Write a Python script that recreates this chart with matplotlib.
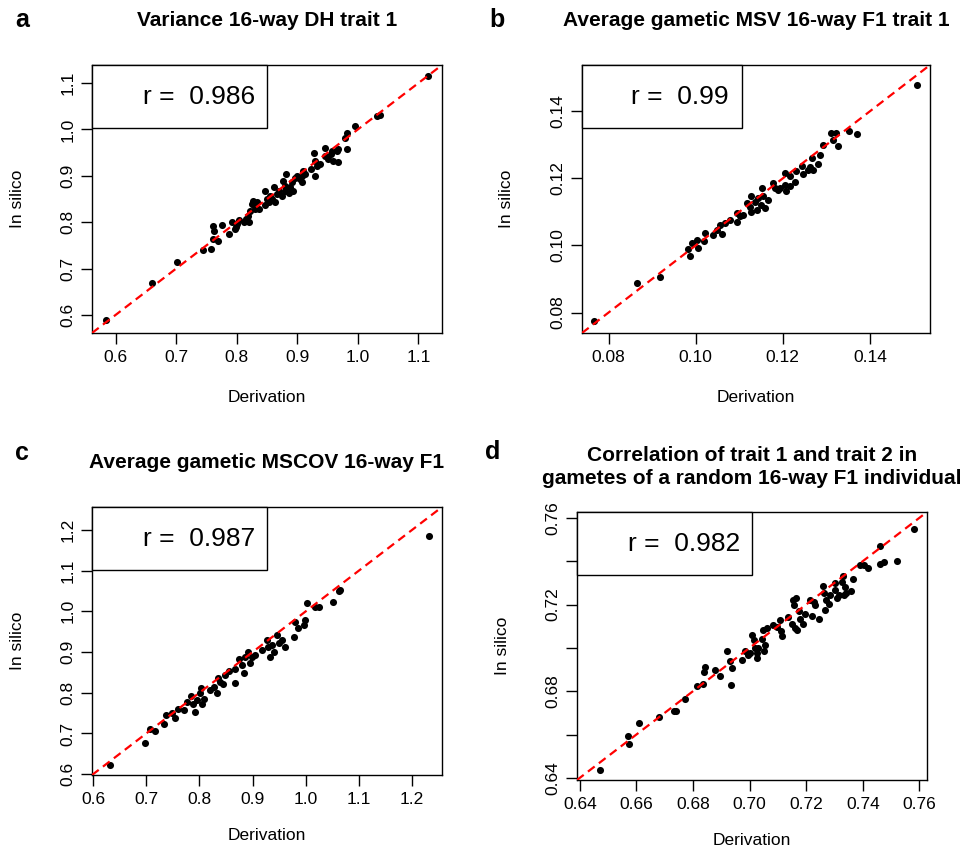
import matplotlib
matplotlib.use("Agg")
import matplotlib.pyplot as plt
from matplotlib.patches import Rectangle

plt.rcParams['font.family'] = ['Liberation Sans', 'DejaVu Sans']

# panel a: variance 16-way DH trait 1
a_x = [0.584, 0.660, 0.702, 0.744, 0.758, 0.761, 0.762, 0.760, 0.769, 0.776, 0.788, 0.792,
       0.798, 0.800, 0.804, 0.797, 0.812, 0.820, 0.819, 0.822, 0.827, 0.828, 0.833, 0.836,
       0.847, 0.850, 0.853, 0.855, 0.861, 0.864, 0.866, 0.875, 0.877, 0.880, 0.882, 0.886,
       0.888, 0.893, 0.891, 0.899, 0.904, 0.908, 0.910, 0.913, 0.927, 0.930, 0.930, 0.938,
       0.946, 0.946, 0.951, 0.957, 0.959, 0.968, 0.968, 0.982, 0.979, 0.982, 0.996, 1.031,
       1.036, 1.116, 0.825, 0.830, 0.815, 0.858, 0.847, 0.870, 0.880, 0.897, 0.908, 0.922,
       0.933, 0.955, 0.965]
a_y = [0.589, 0.669, 0.714, 0.739, 0.743, 0.764, 0.782, 0.791, 0.759, 0.795, 0.775, 0.800,
       0.789, 0.796, 0.804, 0.786, 0.800, 0.801, 0.814, 0.825, 0.846, 0.836, 0.843, 0.829,
       0.868, 0.850, 0.843, 0.857, 0.875, 0.843, 0.861, 0.857, 0.889, 0.879, 0.904, 0.864,
       0.875, 0.868, 0.886, 0.900, 0.893, 0.886, 0.911, 0.904, 0.950, 0.932, 0.900, 0.925,
       0.961, 0.943, 0.936, 0.954, 0.932, 0.929, 0.957, 0.957, 0.982, 0.993, 1.007, 1.029,
       1.032, 1.116, 0.839, 0.829, 0.807, 0.850, 0.836, 0.868, 0.868, 0.896, 0.900, 0.914,
       0.921, 0.946, 0.954]

# panel b: average gametic MSV 16-way F1 trait 1
b_x = [0.0767, 0.0865, 0.0917, 0.0983, 0.0987, 0.0991, 0.1002, 0.1006, 0.1018, 0.1022,
       0.1040, 0.1048, 0.1056, 0.1060, 0.1067, 0.1079, 0.1094, 0.1094, 0.1102, 0.1109,
       0.1117, 0.1124, 0.1128, 0.1128, 0.1136, 0.1140, 0.1143, 0.1151, 0.1153, 0.1155,
       0.1159, 0.1166, 0.1178, 0.1182, 0.1189, 0.1193, 0.1205, 0.1205, 0.1208, 0.1216,
       0.1216, 0.1227, 0.1231, 0.1243, 0.1247, 0.1258, 0.1262, 0.1269, 0.1268, 0.1281,
       0.1285, 0.1292, 0.1311, 0.1315, 0.1323, 0.1327, 0.1353, 0.1370, 0.1508]
b_y = [0.0776, 0.0888, 0.0905, 0.0989, 0.0969, 0.1007, 0.1017, 0.0992, 0.1012, 0.1037,
       0.1032, 0.1047, 0.1062, 0.1035, 0.1067, 0.1077, 0.1097, 0.1069, 0.1087, 0.1092,
       0.1126, 0.1116, 0.1146, 0.1101, 0.1131, 0.1106, 0.1141, 0.1121, 0.1171, 0.1146,
       0.1111, 0.1136, 0.1186, 0.1171, 0.1166, 0.1171, 0.1216, 0.1181, 0.1161, 0.1206,
       0.1176, 0.1188, 0.1221, 0.1236, 0.1214, 0.1226, 0.1234, 0.1226, 0.1261, 0.1244,
       0.1271, 0.1300, 0.1335, 0.1315, 0.1335, 0.1298, 0.1340, 0.1333, 0.1477]

# panel c: average gametic MSCOV 16-way F1
c_x = [0.631, 0.697, 0.707, 0.716, 0.734, 0.737, 0.749, 0.754, 0.760, 0.771, 0.776, 0.784,
       0.788, 0.792, 0.795, 0.801, 0.803, 0.804, 0.809, 0.820, 0.827, 0.833, 0.834, 0.839,
       0.845, 0.848, 0.856, 0.867, 0.867, 0.874, 0.880, 0.883, 0.886, 0.891, 0.895, 0.898,
       0.905, 0.917, 0.927, 0.929, 0.933, 0.936, 0.941, 0.945, 0.949, 0.955, 0.960, 0.977,
       0.980, 0.986, 0.996, 0.998, 1.002, 1.018, 1.024, 1.052, 1.062, 1.065, 1.231]
c_y = [0.622, 0.677, 0.710, 0.706, 0.722, 0.746, 0.751, 0.737, 0.761, 0.757, 0.777, 0.791,
       0.773, 0.753, 0.783, 0.800, 0.812, 0.773, 0.784, 0.806, 0.814, 0.800, 0.835, 0.826,
       0.821, 0.843, 0.853, 0.824, 0.859, 0.884, 0.867, 0.849, 0.888, 0.900, 0.873, 0.888,
       0.892, 0.904, 0.929, 0.912, 0.888, 0.916, 0.900, 0.941, 0.921, 0.929, 0.912, 0.937,
       0.974, 0.958, 0.966, 0.978, 1.021, 1.010, 1.010, 1.023, 1.050, 1.053, 1.185]

# panel d: correlation of trait 1 and trait 2
d_x = [0.6473, 0.6571, 0.6575, 0.6610, 0.6681, 0.6734, 0.6740, 0.6772, 0.6813, 0.6837,
       0.6840, 0.6843, 0.6878, 0.6896, 0.6919, 0.6931, 0.6935, 0.6937, 0.6972, 0.6984,
       0.6996, 0.7002, 0.7008, 0.7014, 0.7019, 0.7025, 0.7025, 0.7031, 0.7043, 0.7047,
       0.7052, 0.7055, 0.7061, 0.7082, 0.7096, 0.7106, 0.7110, 0.7114, 0.7137, 0.7149,
       0.7152, 0.7157, 0.7161, 0.7164, 0.7166, 0.7173, 0.7179, 0.7188, 0.7196, 0.7212,
       0.7220, 0.7226, 0.7232, 0.7244, 0.7261, 0.7264, 0.7265, 0.7271, 0.7279, 0.7285,
       0.7303, 0.7303, 0.7309, 0.7315, 0.7326, 0.7330, 0.7332, 0.7338, 0.7342, 0.7358,
       0.7365, 0.7391, 0.7405, 0.7420, 0.7460, 0.7462, 0.7476, 0.7521, 0.7580]
d_y = [0.6438, 0.6594, 0.6555, 0.6654, 0.6680, 0.6708, 0.6708, 0.6766, 0.6823, 0.6835,
       0.6889, 0.6912, 0.6897, 0.6871, 0.6986, 0.6940, 0.6829, 0.6905, 0.6943, 0.6985,
       0.6966, 0.6974, 0.7058, 0.7035, 0.6997, 0.6951, 0.6974, 0.6997, 0.7043, 0.7082,
       0.6986, 0.7012, 0.7092, 0.7105, 0.7097, 0.7128, 0.7077, 0.7055, 0.7143, 0.7112,
       0.7223, 0.7200, 0.7092, 0.7231, 0.7082, 0.7169, 0.7135, 0.7108, 0.7158, 0.7220,
       0.7148, 0.7212, 0.7197, 0.7131, 0.7285, 0.7251, 0.7174, 0.7220, 0.7202, 0.7243,
       0.7297, 0.7266, 0.7231, 0.7246, 0.7305, 0.7332, 0.7243, 0.7282, 0.7255, 0.7262,
       0.7320, 0.7382, 0.7382, 0.7369, 0.7385, 0.7471, 0.7394, 0.7402, 0.7548]

titles = ["Variance 16-way DH trait 1",
          "Average gametic MSV 16-way F1 trait 1",
          "Average gametic MSCOV 16-way F1",
          "Correlation of trait 1 and trait 2 in\ngametes of a random 16-way F1 individual"]
letters = ["a", "b", "c", "d"]
r_text = ["r =  0.986", "r =  0.99", "r =  0.987", "r =  0.982"]
limits = [(0.561, 1.139), (0.0739, 0.1538), (0.598, 1.256), (0.639, 0.7627)]
ticks = [[0.6, 0.7, 0.8, 0.9, 1.0, 1.1],
         [0.08, 0.10, 0.12, 0.14],
         [0.6, 0.7, 0.8, 0.9, 1.0, 1.1, 1.2],
         [0.64, 0.66, 0.68, 0.70, 0.72, 0.74, 0.76]]
xlabels = [["0.6", "0.7", "0.8", "0.9", "1.0", "1.1"],
           ["0.08", "0.10", "0.12", "0.14"],
           ["0.6", "0.7", "0.8", "0.9", "1.0", "1.1", "1.2"],
           ["0.64", "0.66", "0.68", "0.70", "0.72", "0.74", "0.76"]]
ylabels = [xlabels[0], xlabels[1], xlabels[2],
           ["0.64", "", "0.68", "", "0.72", "", "0.76"]]
xs = [a_x, b_x, c_x, d_x]
ys = [a_y, b_y, c_y, d_y]

fig = plt.figure(figsize=(9.73, 8.49), dpi=100)
W, H = 973, 849
# axes boxes in pixels: left, top, right, bottom
boxes = [(92, 65, 442, 333), (582, 65, 930, 333), (92, 507, 442, 775), (577, 512, 927, 780)]
legend_w = [0.5, 0.46, 0.5, 0.5]
text_r = [0.466, 0.422, 0.466, 0.466]
title_y = [20, 20, 463, 467]
letter_pos = [(22, 20), (497, 20), (22, 453), (493, 452)]
ylab_x = [25, 514, 25, 510]
xlab_y = [390, 390, 828, 833]

for i in range(4):
    l, t, r, b = boxes[i]
    ax = fig.add_axes([l / W, 1 - b / H, (r - l) / W, (b - t) / H])
    lo, hi = limits[i]
    ax.scatter(xs[i], ys[i], s=26, color="black", zorder=3, linewidths=0)
    ax.axline((lo, lo), slope=1, color="red", lw=1.6, linestyle=(0, (3.8, 2.4)), zorder=4)
    ax.set_xlim(lo, hi)
    ax.set_ylim(lo, hi)
    ax.set_xticks(ticks[i])
    ax.set_xticklabels(xlabels[i])
    ax.set_yticks(ticks[i])
    ax.set_yticklabels(ylabels[i], rotation=90, va="center")
    ax.tick_params(length=8, width=1, labelsize=12.5, pad=4)
    for s in ax.spines.values():
        s.set_linewidth(1.0)
    ax.set_xlabel("Derivation", fontsize=12.5)
    ax.xaxis.set_label_coords(0.5, -(xlab_y[i] - b) / (b - t))
    ax.set_ylabel("In silico", fontsize=12.5)
    ax.yaxis.set_label_coords((ylab_x[i] - l) / (r - l), 0.5)
    # legend box with r value
    ax.add_patch(Rectangle((0, 1 - 63 / 268), legend_w[i], 63 / 268, transform=ax.transAxes,
                           facecolor="white", edgecolor="black", lw=1.0, zorder=5, clip_on=False))
    ax.text(text_r[i], 1 - 32 / 268, r_text[i], transform=ax.transAxes, ha="right", va="center",
            fontsize=19, zorder=6)
    ax.text(0.5, 1 + (t - title_y[i]) / (b - t), titles[i], transform=ax.transAxes,
            ha="center", va="center", fontsize=15, fontweight="bold", linespacing=1.3)
    fig.text(letter_pos[i][0] / W, 1 - letter_pos[i][1] / H, letters[i], fontsize=18,
             fontweight="bold", ha="center", va="center")

fig.savefig("out.png", dpi=100)
